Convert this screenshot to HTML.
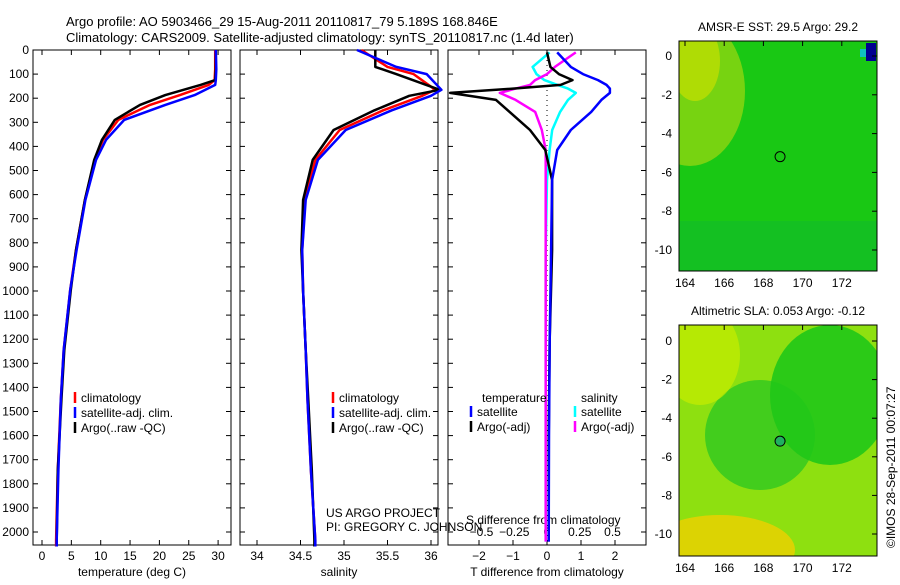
<!DOCTYPE html>
<html><head><meta charset="utf-8"><style>
body{margin:0;background:#fff;width:900px;height:580px;overflow:hidden}
svg{font-family:"Liberation Sans",sans-serif;}
</style></head><body>
<svg id="c" width="900" height="580"></svg>
<script>
// ---- data ----
const depths=[0,80,125,145,187,228,290,373,456,622,830,996,1245,1452,1743,2033,2060];
const tClim=[29.5,29.5,29.4,28.4,23.5,18.4,13.0,10.4,9.0,7.3,5.8,4.8,3.7,3.2,2.7,2.4,2.4];
const tSat=[29.6,29.7,29.6,29.5,26.0,21.0,14.0,10.9,9.2,7.4,5.9,4.8,3.7,3.2,2.8,2.5,2.5];
const tArgo=[29.6,29.6,29.5,27.0,21.0,16.7,12.4,10.2,8.9,7.3,5.8,4.9,3.8,3.3,2.7,2.5,2.5];
const sDepths=[0,70,100,165,190,250,332,456,622,830,1000,1245,1452,1743,2033,2060];
const sClim=[35.2,35.5,35.8,36.05,35.9,35.45,34.95,34.67,34.55,34.52,34.53,34.56,34.58,34.62,34.67,34.67];
const sSat=[35.15,35.6,35.95,36.12,36.0,35.55,35.02,34.7,34.56,34.52,34.53,34.56,34.58,34.62,34.67,34.67];
const sArgo=[35.36,35.36,35.6,36.1,35.75,35.35,34.88,34.64,34.53,34.51,34.53,34.56,34.59,34.63,34.66,34.66];
const dDepths=[10,70,100,125,145,160,178,207,257,332,415,540,830,1200,1600,2040];
const dTArgo=[0,0.1,0.35,0.75,0.4,-1.0,-2.85,-1.5,-1.1,-0.5,-0.05,0.15,0.15,0.08,0.05,0.05];
const dTSat=[0.3,0.7,1.06,1.5,1.75,1.85,1.85,1.6,1.3,0.7,0.3,0.15,0.12,0.08,0.06,0.05];
const dSArgo=[0.22,0.06,0.0,-0.09,-0.13,-0.24,-0.36,-0.24,-0.09,-0.04,-0.01,-0.01,-0.01,-0.01,-0.01,-0.01];
const dSSat=[0.02,-0.11,-0.08,-0.02,0.08,0.16,0.22,0.16,0.1,0.04,0.02,0.0,-0.01,-0.01,-0.01,-0.01];
const depthTicks=[0,100,200,300,400,500,600,700,800,900,1000,1100,1200,1300,1400,1500,1600,1700,1800,1900,2000];
const tTicks=[0,5,10,15,20,25,30];
const sTicks=[34,34.5,35,35.5,36];
const dTTicks=[-2,-1,0,1,2];
const dSTicks=[-0.5,-0.25,0,0.25,0.5];
const dSLabels=['−0.5','−0.25','0','0.25','0.5'];
const latTicks=[0,-2,-4,-6,-8,-10];
const lonTicks=[164,166,168,170,172];
// ---- scales ----
const NS="http://www.w3.org/2000/svg",svg=document.getElementById('c');
function el(t,a,p){const e=document.createElementNS(NS,t);for(const k in a)e.setAttribute(k,a[k]);(p||svg).appendChild(e);return e;}
function txt(s,x,y,a,p){const e=el('text',Object.assign({x:x,y:y,'font-size':12,fill:'#000'},a||{}),p);e.textContent=s;return e;}
const Y=d=>50+d*0.241;
const XT=t=>42+t*5.87, XS=s=>257+(s-34)*87, XD=v=>547+v*34, XDS=v=>547+v*131;
function line(xs,ys,fx,col,w,name){
  const pts=xs.map((v,i)=>fx(v).toFixed(1)+','+Y(ys[i]).toFixed(1)).join(' ');
  const p=el('polyline',{points:pts,fill:'none',stroke:col,'stroke-width':w,'stroke-linejoin':'round'});
  
  
}
function frame(x0,name){const r=el('rect',{x:x0,y:50,width:198,height:495,fill:'none',stroke:'#000'});
  
  depthTicks.forEach(d=>{el('line',{x1:x0,x2:x0+5,y1:Y(d),y2:Y(d),stroke:'#000'});el('line',{x1:x0+193,x2:x0+198,y1:Y(d),y2:Y(d),stroke:'#000'});});}
// titles
txt('Argo profile: AO 5903466_29 15-Aug-2011 20110817_79 5.189S 168.846E',66,26,{'font-size':13,});
txt('Climatology: CARS2009. Satellite-adjusted climatology: synTS_20110817.nc (1.4d later)',66,42,{'font-size':13,});
// panel1
frame(33,'temperature-panel');
depthTicks.forEach(d=>txt(String(d),29,Y(d)+4,{'text-anchor':'end',}));
tTicks.forEach(t=>{el('line',{x1:XT(t),x2:XT(t),y1:545,y2:540,stroke:'#000'});el('line',{x1:XT(t),x2:XT(t),y1:50,y2:55,stroke:'#000'});txt(String(t),XT(t),560,{'text-anchor':'middle',});});
txt('temperature (deg C)',132,576,{'text-anchor':'middle',});
line(tClim,depths,XT,'#f00',2.5,'temp-climatology-line');
line(tArgo,depths,XT,'#000',2.5,'temp-argo-line');
line(tSat,depths,XT,'#00f',2.5,'temp-satellite-line');
// panel2
frame(240,'salinity-panel');
sTicks.forEach(t=>{el('line',{x1:XS(t),x2:XS(t),y1:545,y2:540,stroke:'#000'});el('line',{x1:XS(t),x2:XS(t),y1:50,y2:55,stroke:'#000'});txt(String(t),XS(t),560,{'text-anchor':'middle',});});
txt('salinity',339,576,{'text-anchor':'middle',});
line(sClim,sDepths,XS,'#f00',2.5,'salinity-climatology-line');
line(sArgo,sDepths,XS,'#000',2.5,'salinity-argo-line');
line(sSat,sDepths,XS,'#00f',2.5,'salinity-satellite-line');
txt('US ARGO PROJECT',326,517,{});
txt('PI: GREGORY C. JOHNSON',326,531,{});
// legends 1,2
[[75,'temp-legend'],[333,'salinity-legend']].forEach(([lx,n])=>{
  const g=el('g',{});
  [['#f00','climatology'],['#00f','satellite-adj. clim.'],['#000','Argo(..raw -QC)']].forEach((e,i)=>{
    el('line',{x1:lx,x2:lx,y1:392+i*15,y2:403+i*15,stroke:e[0],'stroke-width':2.5},g);
    txt(e[1],lx+6,402+i*15,{},g);});
});
// panel3
frame(448,'difference-panel');
el('line',{x1:547,x2:547,y1:50,y2:545,stroke:'#000','stroke-dasharray':'1,4'});
dTTicks.forEach(t=>{el('line',{x1:XD(t),x2:XD(t),y1:545,y2:540,stroke:'#000'});el('line',{x1:XD(t),x2:XD(t),y1:50,y2:55,stroke:'#000'});txt(String(t).replace('-','−'),XD(t),560,{'text-anchor':'middle',});});
dSTicks.forEach((t,i)=>txt(dSLabels[i],XDS(t),536,{'text-anchor':'middle',}));
txt('S difference from climatology',466,524,{});
txt('T difference from climatology',547,576,{'text-anchor':'middle',});
line(dSSat,dDepths,XDS,'#0ff',2.5,'s-diff-satellite-line');
line(dSArgo,dDepths,XDS,'#f0f',2.5,'s-diff-argo-line');
line(dTArgo,dDepths,XD,'#000',2.5,'t-diff-argo-line');
line(dTSat,dDepths,XD,'#00f',2.5,'t-diff-satellite-line');
{const g=el('g',{});
txt('temperature',482,402,{},g);txt('salinity',581,402,{},g);
el('line',{x1:471,x2:471,y1:406,y2:417,stroke:'#00f','stroke-width':2.5},g);txt('satellite',477,416,{},g);
el('line',{x1:471,x2:471,y1:421,y2:432,stroke:'#000','stroke-width':2.5},g);txt('Argo(-adj)',477,431,{},g);
el('line',{x1:575,x2:575,y1:406,y2:417,stroke:'#0ff','stroke-width':2.5},g);txt('satellite',581,416,{},g);
el('line',{x1:575,x2:575,y1:421,y2:432,stroke:'#f0f','stroke-width':2.5},g);txt('Argo(-adj)',581,431,{},g);}
// maps
function map(y0,h,lat0,lat10,title,kind,name){
  const g=el('g',{});
  const id='cl'+kind;const cp=el('clipPath',{id:id},g);el('rect',{x:679,y:y0,width:198,height:h},cp);
  const inner=el('g',{'clip-path':'url(#'+id+')'},g);
  if(kind==1){
    el('rect',{x:679,y:y0,width:198,height:h,fill:'#19c814'},inner);
    el('ellipse',{cx:690,cy:y0+50,rx:55,ry:75,fill:'#8fd610',opacity:0.8},inner);
    el('ellipse',{cx:695,cy:y0+20,rx:25,ry:40,fill:'#c8e000',opacity:0.7},inner);
    el('rect',{x:679,y:y0+180,width:198,height:50,fill:'#10b830',opacity:0.5},inner);
    el('rect',{x:866,y:y0+2,width:10,height:18,fill:'#000090'},inner);
    el('rect',{x:860,y:y0+8,width:6,height:8,fill:'#10c0c0'},inner);
  }else{
    el('rect',{x:679,y:y0,width:198,height:h,fill:'#8ee010'},inner);
    el('ellipse',{cx:760,cy:y0+110,rx:55,ry:55,fill:'#30c820',opacity:0.8},inner);
    el('ellipse',{cx:830,cy:y0+70,rx:60,ry:70,fill:'#20c818',opacity:0.9},inner);
    el('ellipse',{cx:720,cy:y0+225,rx:75,ry:35,fill:'#f0d000',opacity:0.8},inner);
    el('ellipse',{cx:700,cy:y0+30,rx:40,ry:50,fill:'#c8ec00',opacity:0.7},inner);
  }
  el('rect',{x:679,y:y0,width:198,height:h,fill:'none',stroke:'#000'},g);
  const LY=l=>lat0+(lat10-lat0)*(-l)/10, LX=l=>685+(l-164)*19.6;
  latTicks.forEach(l=>{el('line',{x1:877,x2:872,y1:LY(l),y2:LY(l),stroke:'#000'},g);txt(String(l),672,LY(l)+4,{'text-anchor':'end'},g);});
  lonTicks.forEach(l=>{el('line',{x1:LX(l),x2:LX(l),y1:y0,y2:y0+5,stroke:'#000'},g);txt(String(l),LX(l),y0+h+16,{'text-anchor':'middle'},g);});
  el('circle',{cx:LX(168.85),cy:LY(-5.19),r:5,fill:kind==2?'#20b060':'none',stroke:'#000'},g);
  txt(title,778,y0-10,{'text-anchor':'middle'},g);
}
map(41,230,56,250,'AMSR-E SST: 29.5 Argo: 29.2',1,'sst-map');
map(325,231,341,534,'Altimetric SLA: 0.053 Argo: -0.12',2,'sla-map');
txt('©IMOS 28-Sep-2011 00:07:27',0,0,{transform:'translate(895,548) rotate(-90)',});
</script>
</body></html>
